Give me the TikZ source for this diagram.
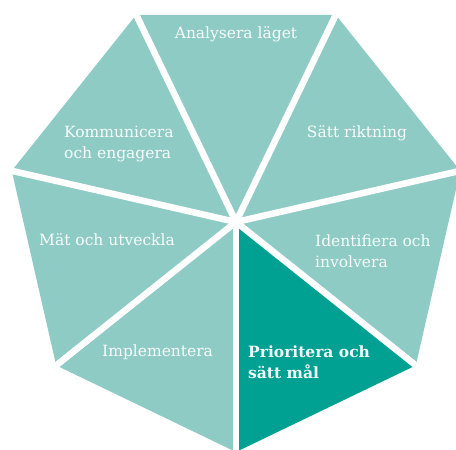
\documentclass[tikz,border=0pt]{standalone}
\usepackage{fontspec}
\setmainfont{DejaVu Serif}
\definecolor{lightteal}{RGB}{142,203,196}
\definecolor{darkteal}{RGB}{0,161,146}
\begin{document}
\begin{tikzpicture}[x=1pt,y=-1pt,
  slice/.style={fill=lightteal},
  hot/.style={fill=darkteal},
  gap/.style={white,line width=6.5pt},
  lbl/.style={text=white!94!lightteal,font=\fontsize{15.5}{21.5}\selectfont,inner sep=0pt},
  lbll/.style={lbl,align=left,anchor=west},
  lblc/.style={lbl,align=center}]
\useasboundingbox (0,0) rectangle (456,450);
\clip (0,0) rectangle (456,450);
\fill[white] (0,0) rectangle (456,450);
\coordinate (c) at (236,222);
\foreach \i/\a in {0/-90,1/-38.571,2/12.857,3/64.286,4/115.714,5/167.143,6/218.571}
  \coordinate (v\i) at ({236+230*cos(\a)},{222-230*sin(\a)});
% slices
\fill[hot]   (c) -- (v0) -- (v1) -- cycle;
\fill[slice] (c) -- (v1) -- (v2) -- cycle;
\fill[slice] (c) -- (v2) -- (v3) -- cycle;
\fill[slice] (c) -- (v3) -- (v4) -- cycle;
\fill[slice] (c) -- (v4) -- (v5) -- cycle;
\fill[slice] (c) -- (v5) -- (v6) -- cycle;
\fill[slice] (c) -- (v6) -- (v0) -- cycle;
% separators
\foreach \i in {0,...,6} \draw[gap] (c) -- (v\i);
% labels
\node[lblc] (analys) at (236,34) {Analysera läget};
\node[lblc] (rikt) at (357,133) {Sätt riktning};
\node[lbll] (komm) at (64,144) {Kommunicera\\och engagera};
\node[lbll] (mat) at (39,240) {Mät och utveckla};
\node[lbll] (ident) at (315,251) {Identifiera och\\involvera};
\node[lbll] (impl) at (102,352) {Implementera};
\node[lbll,font=\bfseries\fontsize{15.5}{21.5}\selectfont,text=white!94!darkteal] (prio) at (248,362) {Prioritera och\\sätt mål};
\end{tikzpicture}
\end{document}
